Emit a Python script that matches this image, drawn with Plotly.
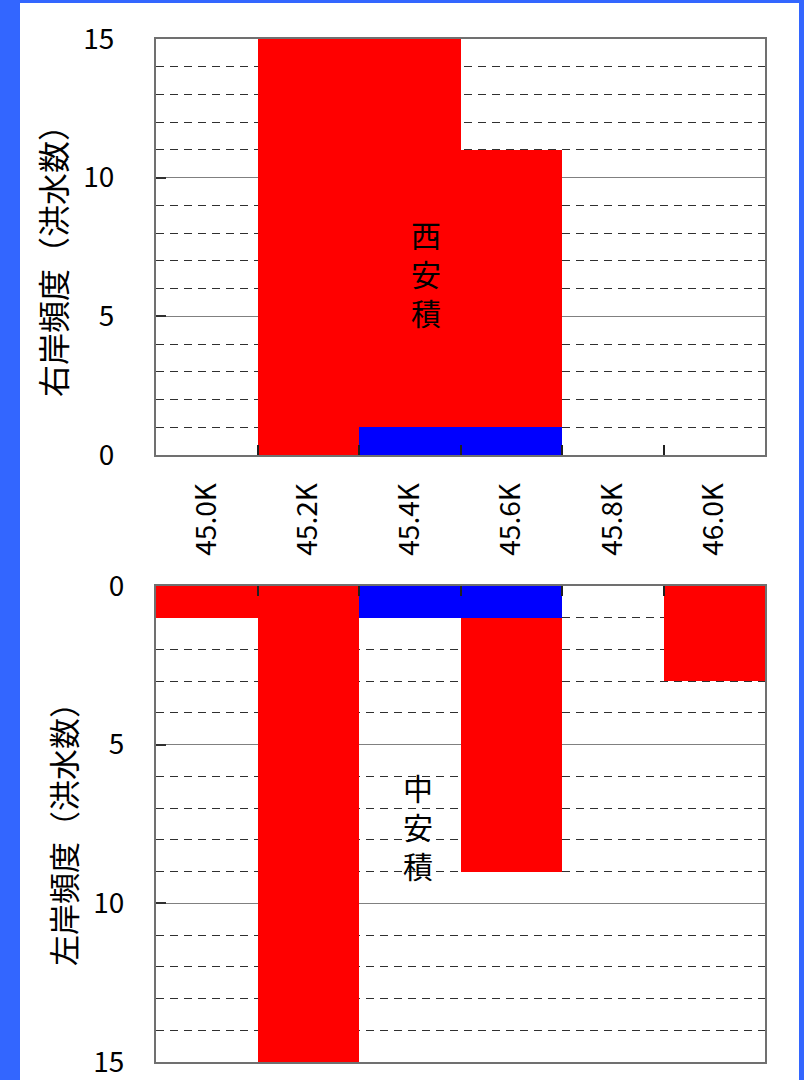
import plotly.graph_objects as go

# ---- data ----
categories = ["45.0K", "45.2K", "45.4K", "45.6K", "45.8K", "46.0K"]
right_blue = [0, 0, 1, 1, 0, 0]      # 右岸 (blue part, bottom of stack)
right_red = [0, 15, 14, 10, 0, 0]    # 右岸 (red part)
left_blue = [0, 0, 1, 1, 0, 0]       # 左岸 (blue part)
left_red = [1, 15, 0, 8, 0, 3]       # 左岸 (red part)
y_ticks = [0, 5, 10, 15]
top_title = "右岸頻度（洪水数）"
bottom_title = "左岸頻度（洪水数）"
top_label = "西安積"
bottom_label = "中安積"

W, H = 804, 1080
FONT = "Noto Sans CJK JP"
RED = "#FF0000"
BLUE = "#0000FF"


def px(x):
    return x / W


def py(y):
    return 1 - y / H


fig = go.Figure()
fig.add_trace(go.Bar(x=categories, y=right_blue, marker=dict(color=BLUE, line_width=0),
                     xaxis="x", yaxis="y", showlegend=False))
fig.add_trace(go.Bar(x=categories, y=right_red, marker=dict(color=RED, line_width=0),
                     xaxis="x", yaxis="y", showlegend=False))
fig.add_trace(go.Bar(x=categories, y=left_blue, marker=dict(color=BLUE, line_width=0),
                     xaxis="x2", yaxis="y2", showlegend=False))
fig.add_trace(go.Bar(x=categories, y=left_red, marker=dict(color=RED, line_width=0),
                     xaxis="x2", yaxis="y2", showlegend=False))

common_x = dict(
    type="category", showline=True, linecolor="#707070", linewidth=2, mirror=True,
    ticks="inside", tickson="boundaries", ticklen=10, tickcolor="#202020", tickwidth=1.5,
    showgrid=False, zeroline=False, fixedrange=True,
)
common_y = dict(
    range=[0, 15], tickvals=y_ticks, ticks="inside", ticklen=10, tickcolor="#303030",
    tickwidth=2, showgrid=True, gridcolor="#808080", gridwidth=1,
    minor=dict(dtick=1, showgrid=True, gridcolor="#303030", griddash="8px,6px", gridwidth=1),
    showline=True, linecolor="#707070", linewidth=2, mirror=True, zeroline=False,
    tickfont=dict(family=FONT, size=28, color="black"), fixedrange=True,
)

fig.update_layout(
    width=W, height=H,
    margin=dict(l=0, r=0, t=0, b=0, autoexpand=False),
    paper_bgcolor="#3366FF",
    plot_bgcolor="white",
    barmode="stack", bargap=0,
    font=dict(family=FONT, color="black"),
    xaxis=dict(common_x, domain=[px(156), px(765)], anchor="y", tickangle=-90,
               tickfont=dict(family=FONT, size=28, color="black"), ticklabelstandoff=15),
    yaxis=dict(common_y, domain=[py(455), py(39)], anchor="x", ticklabelstandoff=34),
    xaxis2=dict(common_x, domain=[px(156), px(765)], anchor="y2", side="top",
                showticklabels=False),
    yaxis2=dict(common_y, domain=[py(1062), py(586)], anchor="x2",
                range=[15, 0], ticklabelstandoff=24),
)

fig.add_shape(type="rect", xref="paper", yref="paper", x0=px(20), x1=px(799),
              y0=0, y1=py(3), fillcolor="white", line_width=0, layer="below")


def add_text(text, x, y, size, angle=0):
    fig.add_annotation(xref="paper", yref="paper", showarrow=False, text=text,
                       x=px(x), y=py(y), textangle=angle,
                       xanchor="center", yanchor="middle",
                       font=dict(family=FONT, color="black", size=size))


add_text(top_title, 52, 253, 32, -90)
add_text(bottom_title, 62, 827, 31, -90)
add_text("<br>".join(top_label), 426, 273, 30)
add_text("<br>".join(bottom_label), 418, 826, 30)

fig.write_html("out.html")
